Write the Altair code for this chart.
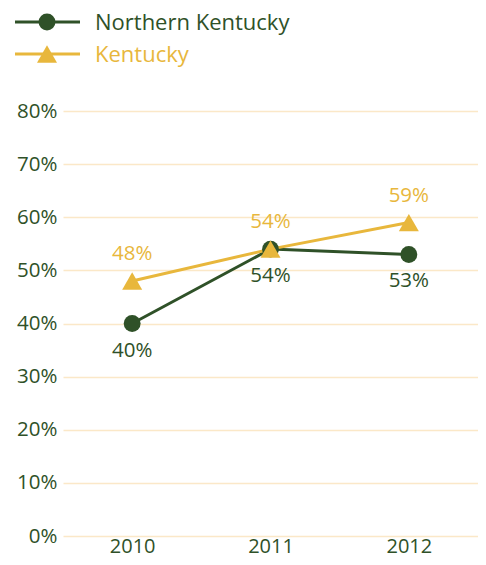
import altair as alt
import pandas as pd

years = ["2010", "2011", "2012"]
series_names = ["Northern Kentucky", "Kentucky"]
nky_values = [0.40, 0.54, 0.53]
ky_values = [0.48, 0.54, 0.59]
y_ticks = [0, 0.1, 0.2, 0.3, 0.4, 0.5, 0.6, 0.7, 0.8]

GREEN = "#2f5128"
GOLD = "#e8b73c"
GRID = "#fbe8c8"
FONT = "Open Sans"

rows = []
for y, v in zip(years, nky_values):
    rows.append({"year": y, "series": series_names[0], "value": v})
for y, v in zip(years, ky_values):
    rows.append({"year": y, "series": series_names[1], "value": v})
df = pd.DataFrame(rows)
leg_df = pd.DataFrame({"series": series_names})

x_enc = alt.X("year:O", title=None, sort=years,
              axis=alt.Axis(labelAngle=0, labelFontSize=20, labelColor=GREEN, labelFont=FONT,
                            domain=False, ticks=False, labelPadding=0, grid=False))
y_enc = alt.Y("value:Q", title=None,
              scale=alt.Scale(domain=[0, 0.8], nice=False),
              axis=alt.Axis(values=y_ticks, format=".0%", labelFontSize=20.5, labelColor=GREEN,
                            labelFont=FONT, domain=False, ticks=False, labelPadding=6,
                            grid=True, gridColor=GRID, gridWidth=1.5))

color_scale = alt.Scale(domain=series_names, range=[GREEN, GOLD])
color_enc = alt.Color("series:N", scale=color_scale, legend=None)

base = alt.Chart(df)

lines = base.mark_line(strokeWidth=3).encode(x=x_enc, y=y_enc, color=color_enc)

nky_pts = base.transform_filter(alt.datum.series == series_names[0]).mark_point(
    filled=True, shape="circle", size=285, opacity=1
).encode(x=x_enc, y=y_enc, color=color_enc)

ky_pts = base.transform_filter(alt.datum.series == series_names[1]).mark_point(
    filled=True, shape="triangle-up", size=400, opacity=1
).encode(x=x_enc, y=y_enc, color=color_enc)

nky_txt = base.transform_filter(alt.datum.series == series_names[0]).mark_text(
    dy=27, fontSize=20.5, font=FONT
).encode(x=x_enc, y=y_enc, color=color_enc, text=alt.Text("value:Q", format=".0%"))

ky_txt = base.transform_filter(alt.datum.series == series_names[1]).mark_text(
    dy=-27, fontSize=20.5, font=FONT
).encode(x=x_enc, y=y_enc, color=color_enc, text=alt.Text("value:Q", format=".0%"))

main = alt.layer(lines, nky_pts, ky_pts, nky_txt, ky_txt)

# legend (drawn above the plot area)
leg_y = alt.Y("series:N", axis=None,
              scale=alt.Scale(type="point", domain=series_names, range=[-89, -57], padding=0))
leg_base = alt.Chart(leg_df)
leg_rule = leg_base.mark_rule(strokeWidth=3).encode(
    x=alt.value(-48), x2=alt.value(17), y=leg_y, color=color_enc)
leg_nky = leg_base.transform_filter(alt.datum.series == series_names[0]).mark_point(
    filled=True, shape="circle", size=285, opacity=1
).encode(x=alt.value(-16), y=leg_y, color=color_enc)
leg_ky = leg_base.transform_filter(alt.datum.series == series_names[1]).mark_point(
    filled=True, shape="triangle-up", size=400, opacity=1
).encode(x=alt.value(-16), y=leg_y, color=color_enc)
leg_txt = leg_base.mark_text(align="left", baseline="middle", fontSize=22, font=FONT, dy=1).encode(
    x=alt.value(32), y=leg_y, color=color_enc, text="series:N")
legend = alt.layer(leg_rule, leg_nky, leg_ky, leg_txt)

chart = alt.layer(main, legend).resolve_scale(y="independent").properties(
    width=415, height=425,
    autosize=alt.AutoSizeParams(type="none"),
    padding={"left": 55, "top": 103, "right": 0, "bottom": 21},
).configure_view(stroke=None)

chart.save("out.html", embed_options={"renderer": "svg", "actions": False})
